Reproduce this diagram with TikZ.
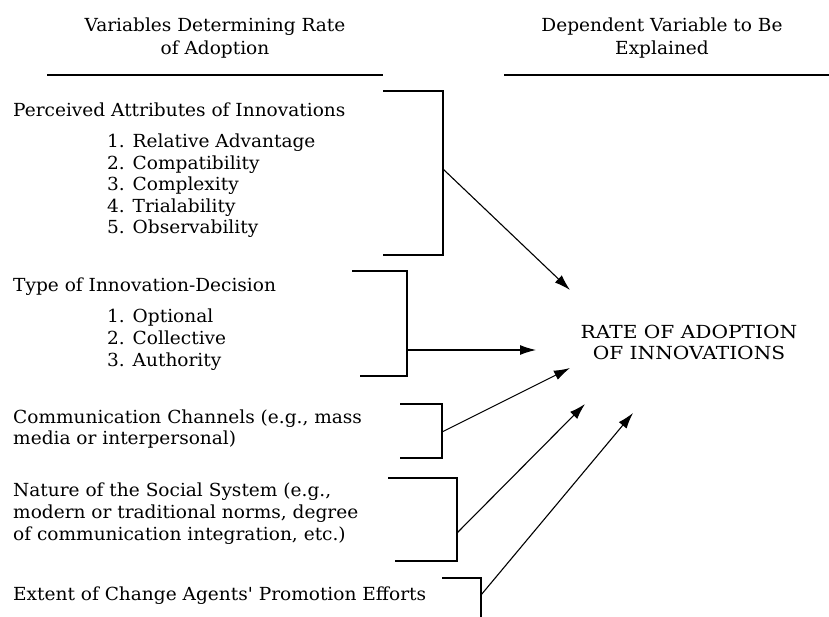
\documentclass[tikz,border=0pt]{standalone}
\usepackage{fontspec}
\setmainfont{DejaVu Serif}[FakeStretch=1.03]
\newfontfamily\plainq{DejaVu Serif}[FakeStretch=1.03]
\newfontfamily\capsfont{DejaVu Serif}[FakeStretch=1.12]
\usetikzlibrary{arrows.meta}
\begin{document}
\begin{tikzpicture}[x=1pt,y=-1pt,
  txt/.style={inner sep=0pt,anchor=base west,font=\fontsize{18}{21}\selectfont},
  ctxt/.style={inner sep=0pt,anchor=base,font=\fontsize{18}{21}\selectfont},
  ttxt/.style={inner sep=0pt,anchor=base,font=\capsfont\fontsize{18}{21}\selectfont},
  rule/.style={line width=1.8pt},
  brk/.style={line width=1.5pt},
  arr/.style={line width=1.1pt,-{Latex[length=16pt,width=10pt]}}]
\useasboundingbox (0,0) rectangle (829,617);
% headers
\node[ctxt] (h1a) at (215,32) {Variables Determining Rate};
\node[ctxt] (h1b) at (215,55) {of Adoption};
\node[ctxt] (h2a) at (662,32) {Dependent Variable to Be};
\node[ctxt] (h2b) at (662,55) {Explained};
\coordinate (l1a) at (47,75); \coordinate (l1b) at (383,75);
\coordinate (l2a) at (504,75); \coordinate (l2b) at (829,75);
\draw[rule] (l1a) -- (l1b);
\draw[rule] (l2a) -- (l2b);
% group 1
\node[txt] (g1) at (13,117) {Perceived Attributes of Innovations};
\node[txt] (g1i1) at (107,148) {1. Relative Advantage};
\node[txt] (g1i2) at (107,169.5) {2. Compatibility};
\node[txt] (g1i3) at (107,191) {3. Complexity};
\node[txt] (g1i4) at (107,212.5) {4. Trialability};
\node[txt] (g1i5) at (107,234) {5. Observability};
% group 2
\node[txt] (g2) at (13,292) {Type of Innovation-Decision};
\node[txt] (g2i1) at (107,323) {1. Optional};
\node[txt] (g2i2) at (107,344.5) {2. Collective};
\node[txt] (g2i3) at (107,366) {3. Authority};
% group 3
\node[txt] (g3a) at (13,423) {Communication Channels (e.g., mass};
\node[txt] (g3b) at (13,444) {media or interpersonal)};
% group 4
\node[txt] (g4a) at (13,496) {Nature of the Social System (e.g.,};
\node[txt] (g4b) at (13,518) {modern or traditional norms, degree};
\node[txt] (g4c) at (13,540) {of communication integration, etc.)};
% group 5
\node[txt] (g5) at (13,600) {Extent of Change Agents{\plainq'} Promotion Efforts};
% target
\node[ttxt] (ta) at (689,338) {RATE OF ADOPTION};
\node[ttxt] (tb) at (689,359) {OF INNOVATIONS};
% brackets
\draw[brk] (383,91) -- (443,91) -- (443,255) -- (383,255);
\draw[brk] (352,271) -- (407,271) -- (407,376) -- (360,376);
\draw[brk] (400,404) -- (442,404) -- (442,458) -- (400,458);
\draw[brk] (388,478) -- (457,478) -- (457,561) -- (395,561);
\draw[brk] (442,578) -- (481,578) -- (481,617);
% arrow ends
\coordinate (s1) at (443,169); \coordinate (e1) at (570,290);
\coordinate (s2) at (407,350); \coordinate (e2) at (536,350);
\coordinate (s3) at (442,432); \coordinate (e3) at (570,368);
\coordinate (s4) at (457,533); \coordinate (e4) at (585,404);
\coordinate (s5) at (481,595); \coordinate (e5) at (633,413);
\draw[arr] (s1) -- (e1);
\draw[arr] (s2) -- (e2);
\draw[arr] (s3) -- (e3);
\draw[arr] (s4) -- (e4);
\draw[arr] (s5) -- (e5);
\end{tikzpicture}
\end{document}
